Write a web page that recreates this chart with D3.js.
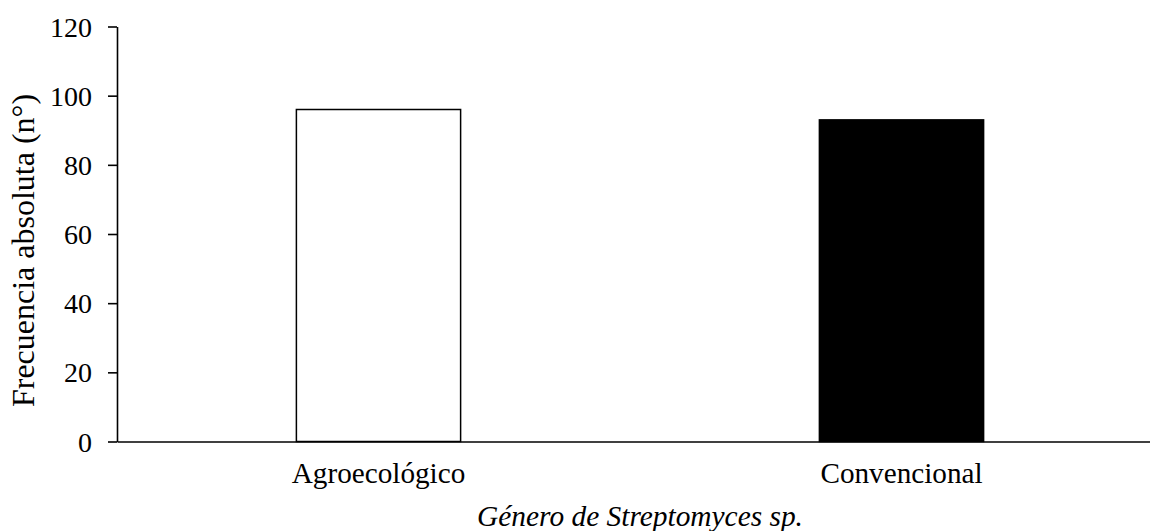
<!DOCTYPE html>
<html>
<head>
<meta charset="utf-8">
<script src="https://cdn.jsdelivr.net/npm/d3@7"></script>
<style>
  body { margin: 0; background: #fff; }
  svg { display: block; font-family: "Liberation Serif", "Times New Roman", serif; }
</style>
</head>
<body>
<div id="chart"></div>
<script>
const categories = ['Agroecológico', 'Convencional']
const values = [96, 93]
const fills = ['#ffffff', '#000000']
const yTicks = [0, 20, 40, 60, 80, 100, 120]

const width = 1150
const height = 531
const margin = {left: 117, top: 26.5, bottom: 89.5}
const serif = '"Liberation Serif", "Times New Roman", serif'

const svg = d3.select('#chart').append('svg')
  .attr('width', width)
  .attr('height', height)

// x range runs past the right edge, like the cropped original
const x = d3.scaleBand()
  .domain(categories)
  .range([margin.left, 1163])
  .paddingInner(0.686)
  .paddingOuter(0.343)

const y = d3.scaleLinear()
  .domain([0, 120])
  .range([height - margin.bottom, margin.top])

// bars
svg.selectAll('rect.bar')
  .data(categories)
  .enter()
    .append('rect')
    .attr('class', 'bar')
    .attr('x', d => x(d))
    .attr('y', (d, i) => y(values[i]))
    .attr('width', x.bandwidth())
    .attr('height', (d, i) => y(0) - y(values[i]))
    .attr('fill', (d, i) => fills[i])
    .attr('stroke', '#000')
    .attr('stroke-width', 1.5)

// y axis
const yAxis = svg.append('g')
  .attr('transform', `translate(${margin.left},0)`)
  .call(d3.axisLeft(y).tickValues(yTicks).tickSize(9).tickPadding(16).tickSizeOuter(0))
yAxis.select('.domain').attr('stroke-width', 1.6)
yAxis.selectAll('.tick line').attr('stroke-width', 1.6)
yAxis.selectAll('.tick text')
  .attr('font-size', 28)
  .attr('font-family', serif)
  .attr('fill', '#000')
  .attr('dy', '0.34em')

// x axis
const xAxis = svg.append('g')
  .attr('transform', `translate(0,${y(0)})`)
  .call(d3.axisBottom(x).tickSize(0).tickPadding(21).tickSizeOuter(0))
xAxis.select('.domain').attr('stroke-width', 1.6)
xAxis.selectAll('.tick text')
  .attr('font-size', 29.2)
  .attr('font-family', serif)
  .attr('fill', '#000')

// axis titles
svg.append('text')
  .attr('x', 640)
  .attr('y', 526)
  .attr('text-anchor', 'middle')
  .attr('font-size', 29.4)
  .attr('font-style', 'italic')
  .text('Género de Streptomyces sp.')

svg.append('text')
  .attr('transform', 'translate(34,250.5) rotate(-90)')
  .attr('text-anchor', 'middle')
  .attr('font-size', 32)
  .text('Frecuencia absoluta (n°)')
</script>
</body>
</html>
